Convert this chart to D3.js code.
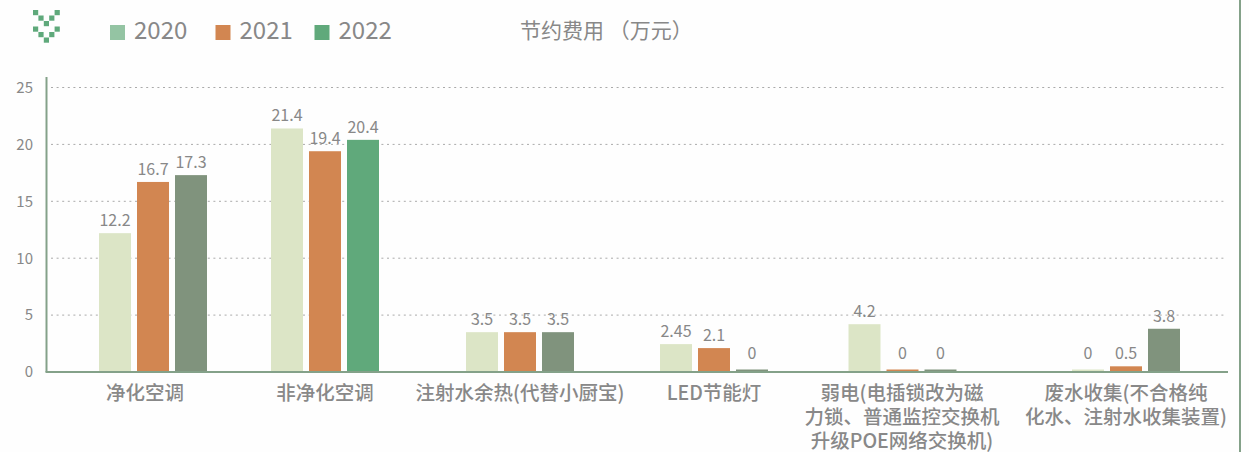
<!DOCTYPE html>
<html>
<head>
<meta charset="utf-8">
<title>节约费用</title>
<style>
	html, body { margin: 0; padding: 0; background: #fff; }
	svg { display: block; }
	text { font-family: "Noto Sans CJK SC", "Noto Sans", sans-serif; }
</style>
</head>
<body>
<script src="https://cdn.jsdelivr.net/npm/d3@7/dist/d3.min.js"></script>
<script>
	// 数据
	const categories = ["净化空调", "非净化空调", "注射水余热(代替小厨宝)", "LED节能灯", "弱电(电插锁改为磁力锁、普通监控交换机升级POE网络交换机)", "废水收集(不合格纯化水、注射水收集装置)"]
	const categoryLines = [
		["净化空调"],
		["非净化空调"],
		["注射水余热(代替小厨宝)"],
		["LED节能灯"],
		["弱电(电插锁改为磁", "力锁、普通监控交换机", "升级POE网络交换机)"],
		["废水收集(不合格纯", "化水、注射水收集装置)"]
	]
	const years = ["2020", "2021", "2022"]
	const values2020 = [12.2, 21.4, 3.5, 2.45, 4.2, 0]
	const values2021 = [16.7, 19.4, 3.5, 2.1, 0, 0.5]
	const values2022 = [17.3, 20.4, 3.5, 0, 0, 3.8]
	const yTicks = [0, 5, 10, 15, 20, 25]

	const width = 1249, height = 452

	// 分组中心并不等距，用序数比例尺
	const groupCenters = [153, 325, 520, 714, 902.5, 1126]
	const scX = d3.scaleOrdinal().domain(categories).range(groupCenters)
	const scOffset = d3.scalePoint().domain(years).range([-38, 38])
	const scY = d3.scaleLinear().domain([0, 25]).range([372, 87.5])

	const barWidth = 32
	const axisColor = "#84a189"
	const colors = { "2020": "#dce5c6", "2021": "#d28651", "2022": "#80937d" }
	const legendColors = { "2020": "#94c4a3", "2021": "#d28651", "2022": "#60a97b" }
	const series = { "2020": values2020, "2021": values2021, "2022": values2022 }

	const svg = d3.select("body").append("svg")
		.attr("width", width)
		.attr("height", height)

	svg.append("rect").attr("width", width).attr("height", height).attr("fill", "#fefefe")

	// 右侧边框
	svg.append("line").attr("x1", 1240).attr("x2", 1240).attr("y1", 0).attr("y2", height).attr("stroke", axisColor).attr("stroke-width", 2)

	// 左上角图标
	const logoCells = [[0, 0], [4, 0], [1, 1], [3, 1], [2, 2], [0, 3], [4, 3], [1, 4], [3, 4], [2, 5]]
	svg.append("g").selectAll("rect")
		.data(logoCells).enter()
		.append("rect")
			.attr("x", d => 33 + d[0] * 5.4)
			.attr("y", d => 10 + d[1] * 5.5)
			.attr("width", 5.2)
			.attr("height", 5.2)
			.attr("fill", "#5fa97b")

	// 图例
	const legendX = d3.scaleOrdinal().domain(years).range([110, 215.5, 314.5])
	const legend = svg.append("g").selectAll("g")
		.data(years).enter()
		.append("g")
			.attr("transform", d => `translate(${legendX(d)}, 0)`)
	legend.append("rect")
		.attr("y", 25)
		.attr("width", 15)
		.attr("height", 15)
		.attr("fill", d => legendColors[d])
	legend.append("text")
		.attr("x", 24)
		.attr("y", 39)
		.attr("font-size", 24)
		.attr("fill", "#888")
		.text(d => d)

	// 标题
	svg.append("text")
		.attr("x", 520)
		.attr("y", 38)
		.attr("font-size", 21)
		.attr("fill", "#888")
		.text("节约费用 （万元）")

	// 网格线
	svg.append("g").selectAll("line")
		.data(yTicks.filter(d => d > 0)).enter()
		.append("line")
			.attr("x1", 51)
			.attr("x2", 1224)
			.attr("y1", d => scY(d))
			.attr("y2", d => scY(d))
			.attr("stroke", "#aaa")
			.attr("stroke-dasharray", "2 3.6")

	// 柱子
	years.forEach(year => {
		const g = svg.append("g")
		g.selectAll("rect")
			.data(series[year].map((v, i) => ({ v, cat: categories[i], i }))).enter()
			.append("rect")
				.attr("x", d => scX(d.cat) + scOffset(year) - barWidth / 2)
				.attr("y", d => d.v === 0 ? scY(0) - 2.5 : scY(d.v))
				.attr("width", barWidth)
				.attr("height", d => d.v === 0 ? 2.5 : scY(0) - scY(d.v))
				// 第二组的2022柱子颜色不同
				.attr("fill", d => year === "2022" && d.i === 1 ? legendColors["2022"] : colors[year])
		g.selectAll("text")
			.data(series[year].map((v, i) => ({ v, cat: categories[i] }))).enter()
			.append("text")
				.attr("x", d => scX(d.cat) + scOffset(year))
				.attr("y", d => scY(d.v) - (d.v === 0 ? 13 : 7))
				.attr("text-anchor", "middle")
				.attr("font-size", 16)
				.attr("fill", "#888")
				.text(d => d.v)
	})

	// 坐标轴
	const axY = d3.axisLeft(scY).tickValues(yTicks).tickSize(0).tickPadding(13)
	const gY = svg.append("g").attr("transform", "translate(46, 0)").call(axY)
	gY.select(".domain").remove()
	gY.selectAll("text").attr("font-size", 15).attr("fill", "#888").style("font-family", '"Noto Sans CJK SC"')

	svg.append("line").attr("x1", 46.5).attr("x2", 46.5).attr("y1", 77).attr("y2", scY(0)).attr("stroke", axisColor).attr("stroke-width", 2)
	svg.append("line").attr("x1", 45.5).attr("x2", 1228).attr("y1", scY(0)).attr("y2", scY(0)).attr("stroke", axisColor).attr("stroke-width", 2)

	// 类别标签
	const labelX = d3.scaleOrdinal().domain(categories).range([145, 325, 520, 714, 902, 1126])
	const lab = svg.append("g").selectAll("text")
		.data(categories).enter()
		.append("text")
			.attr("text-anchor", "middle")
			.attr("font-size", 19.5)
			.attr("font-weight", 500)
			.attr("fill", "#888")
			.attr("transform", d => `translate(${labelX(d)}, 400)`)
	lab.selectAll("tspan")
		.data((d, i) => categoryLines[i]).enter()
		.append("tspan")
			.attr("x", 0)
			.attr("dy", (d, i) => i === 0 ? 0 : 24)
			.text(d => d)
</script>
</body>
</html>
